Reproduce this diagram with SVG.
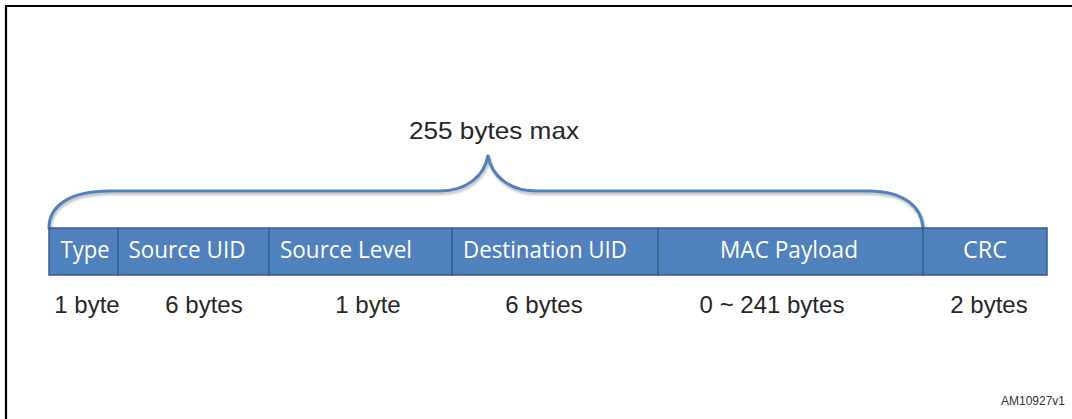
<svg xmlns="http://www.w3.org/2000/svg" width="1072" height="419" viewBox="0 0 1072 419">
<style>
.frame{fill:none;stroke:#000;stroke-width:2.2}
.box{fill:#4F81BD;stroke:#385D8A;stroke-width:1.5}
.bt{font-family:"Open Sans","Liberation Sans",sans-serif;font-size:23px;fill:#fff;text-anchor:middle}
.lbl{font-family:"Liberation Sans",Arial,sans-serif;font-size:24px;fill:#262626;text-anchor:middle}
.brace{fill:none;stroke:#4F81BD;stroke-width:3;stroke-linecap:round}
.shadow{fill:none;stroke:#8c8c8c;stroke-width:3;opacity:0.55}
</style>
<defs>
<filter id="blur" x="-5%" y="-20%" width="110%" height="140%"><feGaussianBlur stdDeviation="1"/></filter>
</defs>
<rect width="1072" height="419" fill="#fff"/>
<path class="frame" d="M6,419 V6 H1072"/>
<text id="title" x="494" y="139" font-family="Liberation Sans,Arial,sans-serif" font-size="24" fill="#262626" text-anchor="middle" textLength="170" lengthAdjust="spacingAndGlyphs">255 bytes max</text>
<g id="connectors">
<path class="shadow" filter="url(#blur)" transform="translate(1,2.5)" d="M49,228 C49,207 68,191 110,191 L440,191 C466,191 485,176 488,155 C491,176 510,191 536,191 L868,191 C904,191 922,207 923,228"/>
<path class="brace" d="M49,228 C49,207 68,191 110,191 L440,191 C466,191 485,176 488,155 C491,176 510,191 536,191 L868,191 C904,191 922,207 923,228"/>
</g>
<g id="type"><rect class="box" x="49" y="228" width="69" height="47"/><text class="bt" x="85" y="258" textLength="49" lengthAdjust="spacingAndGlyphs">Type</text></g>
<g id="source-uid"><rect class="box" x="118" y="228" width="151" height="47"/><text class="bt" x="187" y="258" textLength="117" lengthAdjust="spacingAndGlyphs">Source UID</text></g>
<g id="source-level"><rect class="box" x="269" y="228" width="183" height="47"/><text class="bt" x="346" y="258" textLength="132" lengthAdjust="spacingAndGlyphs">Source Level</text></g>
<g id="destination-uid"><rect class="box" x="452" y="228" width="206" height="47"/><text class="bt" x="545" y="258" textLength="164" lengthAdjust="spacingAndGlyphs">Destination UID</text></g>
<g id="mac-payload"><rect class="box" x="658" y="228" width="265" height="47"/><text class="bt" x="789" y="258" textLength="138" lengthAdjust="spacingAndGlyphs">MAC Payload</text></g>
<g id="crc"><rect class="box" x="923" y="228" width="124" height="47"/><text class="bt" x="985" y="258" textLength="44" lengthAdjust="spacingAndGlyphs">CRC</text></g>
<g id="labels">
<text class="lbl" x="87" y="313">1 byte</text>
<text class="lbl" x="204" y="313">6 bytes</text>
<text class="lbl" x="368" y="313">1 byte</text>
<text class="lbl" x="544" y="313">6 bytes</text>
<text class="lbl" x="772" y="313">0 ~ 241 bytes</text>
<text class="lbl" x="989" y="313">2 bytes</text>
</g>
<text id="ref" x="1065" y="405" font-family="Liberation Sans,Arial,sans-serif" font-size="12" fill="#333" text-anchor="end">AM10927v1</text>
</svg>
